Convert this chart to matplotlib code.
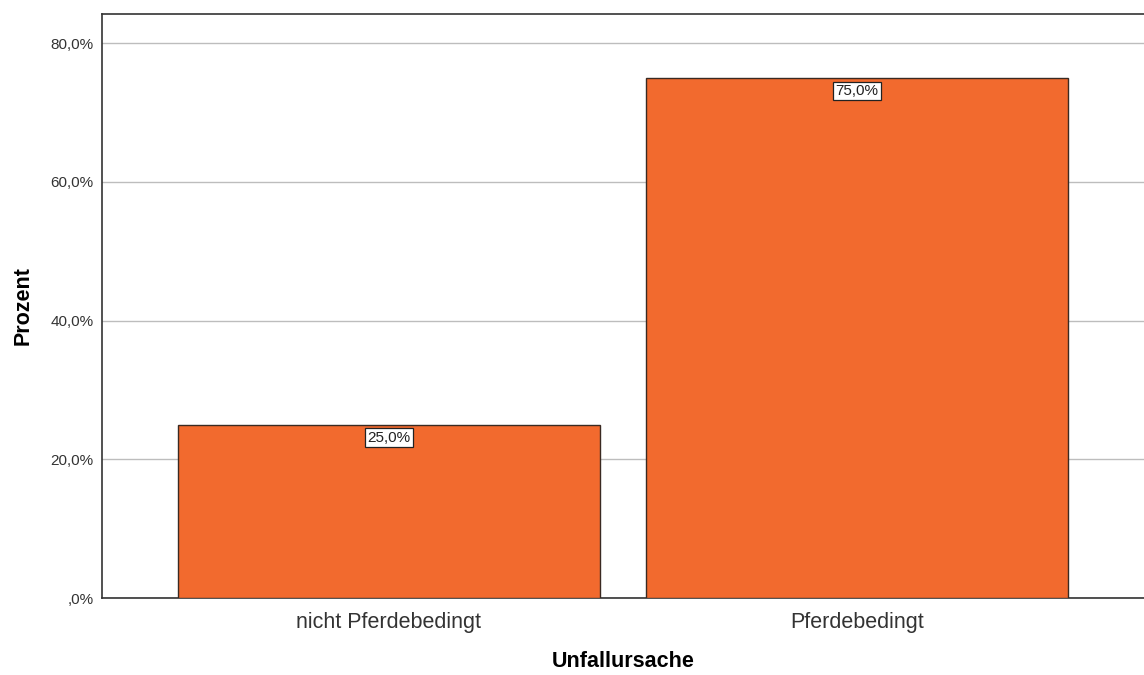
import matplotlib.pyplot as plt

plt.rcParams['font.family'] = ['Liberation Sans', 'DejaVu Sans']

categories = ["nicht Pferdebedingt", "Pferdebedingt"]
percent = [25.0, 75.0]
yticks = [0, 20, 40, 60, 80]

def fmt(v):
    s = "%.1f" % v
    if s.startswith("0"):
        s = s[1:]
    return s.replace(".", ",") + "%"

fig = plt.figure(figsize=(11.44, 6.75), dpi=100)
ax = fig.add_axes([102/1144, 1 - 598/675, 1 - 102/1144, (598 - 14)/675])

x = range(len(categories))
bars = ax.bar(x, percent, width=0.902, color="#f26a2e", edgecolor="#3a2a22", linewidth=1, zorder=3)
for b, v in zip(bars, percent):
    ax.text(b.get_x() + b.get_width()/2, v - 1.9, fmt(v), ha="center", va="center",
            fontsize=11, color="#222222", zorder=4,
            bbox=dict(boxstyle="square,pad=0.15", fc="white", ec="#222222", lw=0.9))

ax.set_xlim(-0.613, 1.613)
ax.set_ylim(0, 84.2)
ax.set_yticks(yticks)
ax.set_yticklabels([fmt(v) for v in yticks], fontsize=11, color="#333333")
ax.set_xticks(list(x))
ax.set_xticklabels(categories, fontsize=15.5, color="#333333")
ax.tick_params(length=0, pad=6)
ax.tick_params(axis="x", pad=10)
ax.grid(axis="y", color="#bdbdbd", linewidth=1, zorder=0)
ax.spines["right"].set_visible(False)
for s in ["left", "top", "bottom"]:
    ax.spines[s].set_color("#333333")
    ax.spines[s].set_linewidth(1.2)

ax.set_xlabel("Unfallursache", fontsize=15.5, fontweight="bold", labelpad=13)
ax.set_ylabel("Prozent", fontsize=15.5, fontweight="bold", labelpad=12)

fig.savefig("out.png", dpi=100)
